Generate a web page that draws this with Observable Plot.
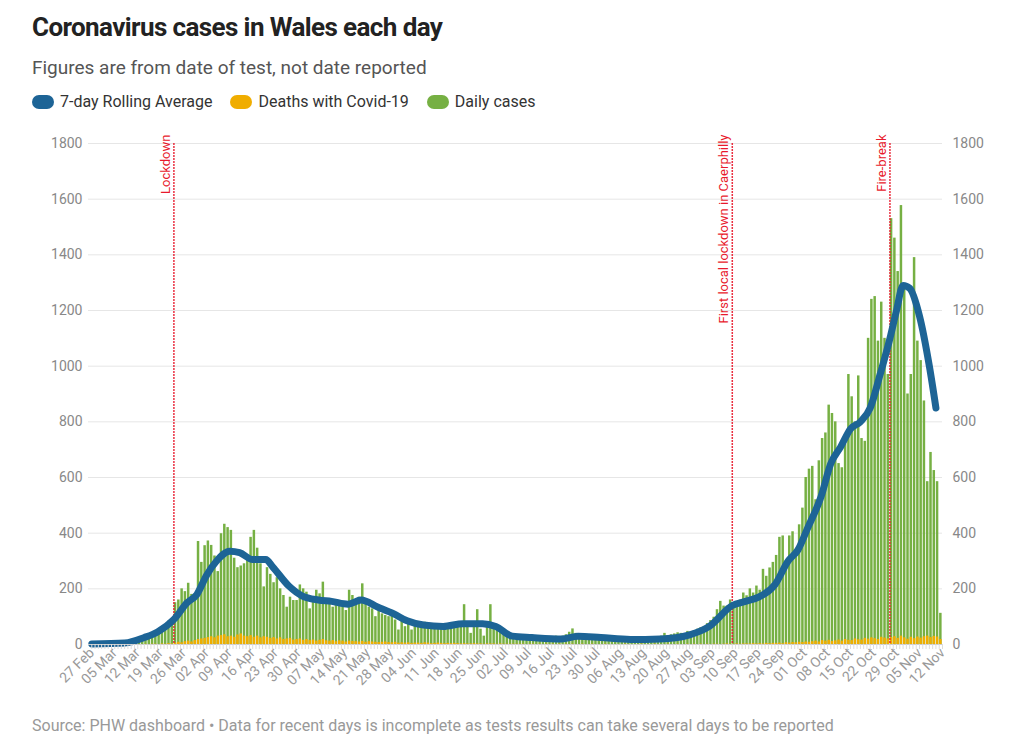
<!DOCTYPE html>
<html><head><meta charset="utf-8">
<script src="https://cdn.jsdelivr.net/npm/d3@7"></script>
<script src="https://cdn.jsdelivr.net/npm/@observablehq/plot@0.6"></script>
<style>
body{margin:0;background:#fff;font-family:Roboto,sans-serif;}
#title{position:absolute;left:32px;top:12px;font-size:26px;font-weight:700;color:#222;letter-spacing:-0.6px;}
#sub{position:absolute;left:32px;top:56px;font-size:19px;color:#555;}
#legend{position:absolute;left:32px;top:92px;font-size:16px;color:#333;display:flex;gap:18px;}
#legend span.sw{display:inline-block;width:22px;height:14px;border-radius:7px;margin-right:6px;vertical-align:-2px;}
#chart{position:absolute;left:0;top:120px;}
#foot{position:absolute;left:32px;top:716px;font-size:16px;color:#999;}
</style></head><body>
<div id="title">Coronavirus cases in Wales each day</div>
<div id="sub">Figures are from date of test, not date reported</div>
<div id="legend"><div><span class="sw" style="background:#1d6496"></span>7-day Rolling Average</div><div><span class="sw" style="background:#f0ad00"></span>Deaths with Covid-19</div><div><span class="sw" style="background:#76b043"></span>Daily cases</div></div>
<div id="chart"></div>
<div id="foot">Source: PHW dashboard • Data for recent days is incomplete as tests results can take several days to be reported</div>
<script>
const startDate = "2020-02-27";
const cases = [
1,0,1,2,1,1,2,
3,5,4,8,10,12,15,
20,25,30,30,35,40,45,
59,70,84,84,
150,160,200,190,220,180,160,
370,295,355,372,356,318,262,
398,432,420,410,310,276,282,
290,320,385,410,346,290,207,
276,252,222,240,200,176,134,
170,158,158,214,200,188,128,
170,195,182,224,158,146,134,
140,158,134,122,195,176,158,
170,218,146,134,128,100,122,
110,104,100,110,88,52,88,
64,76,52,76,
65,70,80,72,68,60,75,70,66,72,62,70,75,68,
143,70,40,75,125,55,30,72,143,
60,55,50,40,45,38,35,30,
28,30,25,27,30,26,28,24,27,25,28,30,26,30,35,44,
56,40,35,32,35,30,33,28,30,32,27,30,26,25,
22,20,23,18,21,20,22,19,24,20,22,25,24,30,
40,32,35,38,42,40,35,47,45,50,55,60,65,
75,86,98,125,155,138,138,160,148,150,160,185,175,
200,185,210,195,270,245,275,295,
320,385,390,300,390,405,340,430,490,600,630,640,520,660,740,760,860,830,800,650,635,720,970,890,800,965,740,730,
1100,1240,1250,1090,1230,1100,970,1530,1460,1340,1577,1290,900,970,1390,1090,1020,875,585,690,625,585,112];
const deaths = [
0,0,0,0,0,0,0,
0,0,0,0,0,0,0,
0,0,1,0,1,1,0,
2,1,3,2,
5,8,6,10,12,9,14,
18,20,22,25,28,24,30,
32,35,28,30,26,34,38,
30,28,32,26,30,24,28,
26,22,25,20,24,18,20,
22,16,18,20,15,18,14,
16,12,15,18,13,12,14,
10,13,12,9,12,11,10,
9,11,8,10,9,8,7,
8,9,7,6,8,5,6,
5,6,4,5,
5,4,6,5,3,4,5,4,3,4,3,4,3,2,
3,2,2,3,2,2,1,2,2,
2,1,2,1,1,1,1,1,
1,1,0,1,1,0,1,0,1,0,1,0,1,0,1,0,
1,0,0,1,0,0,1,0,0,0,1,0,0,0,
0,0,1,0,0,0,0,1,0,0,0,1,0,0,
0,1,0,0,1,0,0,1,0,1,0,1,0,
1,0,1,1,0,1,2,1,1,2,1,2,2,
2,3,2,3,2,4,3,4,
4,5,3,6,5,7,6,8,7,9,8,10,12,9,14,12,15,11,13,16,12,18,15,14,20,17,16,22,
19,24,21,18,26,23,20,25,28,22,30,24,19,26,21,27,23,28,30,25,29,27,18];
// 7-day rolling average: day index since 27 Feb, value
const avgDay = [0,10,16,20,25,29,32,35,38,42,45,49,53,55,60,64,69,73,78,82,87,92,96,101,107,113,119,123,128,134,143,148,155,164,173,182,188,195,199,203,208,212,215,218,222,225,228,231,234,237,240,243,245,247,249,252,255,257];
const avgVal = [2,5,25,45,90,150,180,250,300,335,330,305,305,280,210,175,160,155,145,160,135,110,85,70,65,75,75,65,30,25,20,30,25,18,20,35,65,140,155,170,215,300,340,420,530,650,710,775,800,850,970,1100,1200,1290,1280,1180,1000,850];
const tickLabels = ["27 Feb","05 Mar","12 Mar","19 Mar","26 Mar","02 Apr","09 Apr","16 Apr","23 Apr","30 Apr","07 May","14 May","21 May","28 May","04 Jun","11 Jun","18 Jun","25 Jun","02 Jul","09 Jul","16 Jul","23 Jul","30 Jul","06 Aug","13 Aug","20 Aug","27 Aug","03 Sep","10 Sep","17 Sep","24 Sep","01 Oct","08 Oct","15 Oct","22 Oct","29 Oct","05 Nov","12 Nov"];
const eventLabels = ["Lockdown","First local lockdown in Caerphilly","Fire-break"];
const eventDates = ["2020-03-23","2020-09-09","2020-10-27"];

const t0 = new Date(startDate);
const data = cases.map((c,i)=>({date:d3.utcDay.offset(t0,i), cases:c, deaths:deaths[i]}));
const avg = avgDay.map((d,i)=>({date:d3.utcDay.offset(t0,d), v:avgVal[i]}));
const tickDates = tickLabels.map((_,i)=>d3.utcDay.offset(t0,7*i));
const allDays = d3.utcDay.range(t0, d3.utcDay.offset(t0, 260));
const events = eventLabels.map((l,i)=>({label:l, date:new Date(eventDates[i])}));
const fmt = d=>tickLabels[tickDates.findIndex(t=>+t===+d)];
const yt = d3.range(0,1801,200);

const plot = Plot.plot({
  width:1020, height:590,
  marginLeft:88, marginRight:78, marginTop:23, marginBottom:66,
  style:{fontFamily:"Roboto, sans-serif", fontSize:"14px", color:"#888"},
  x:{type:"utc", domain:[d3.utcDay.offset(t0,-0.5), d3.utcDay.offset(t0,259)]},
  y:{domain:[0,1800]},
  marks:[
    Plot.gridY(yt,{stroke:"#e6e6e6", strokeOpacity:1}),
    Plot.axisY(yt,{anchor:"left", tickSize:0, tickPadding:6, fill:"#888", tickFormat:d=>String(d)}),
    Plot.axisY(yt,{anchor:"right", tickSize:0, tickPadding:10, fill:"#888", tickFormat:d=>String(d)}),
    Plot.rectY(data,{x:"date", y:"cases", interval:"day", fill:"#76b043", insetLeft:0.4, insetRight:0.4}),
    Plot.rectY(data,{x:"date", y:"deaths", interval:"day", fill:"#f0ad00", insetLeft:0.4, insetRight:0.4}),
    Plot.ruleX(events,{x:d=>d.date, stroke:()=>"#e8192c", strokeWidth:1.5, strokeOpacity:0.9, strokeDasharray:"2,1"}),
    Plot.text(events,{x:"date", y:1800, text:"label", rotate:-90, textAnchor:"end", dx:-8, dy:-9, fill:"#e8192c", fontSize:13}),
    Plot.lineY(avg,{x:"date", y:"v", curve:"monotone-x", stroke:"#1d6496", strokeWidth:7, strokeLinecap:"round", strokeLinejoin:"round"}),
    Plot.ruleY([0],{stroke:"#ccc"}),
    Plot.axisX(allDays,{tickSize:5, tickFormat:()=>"", stroke:"#ddd"}),
    Plot.axisX(tickDates,{tickSize:0, tickRotate:-45, tickFormat:fmt, fill:"#999", fontSize:14, tickPadding:6})
  ]
});
document.getElementById("chart").append(plot);
</script></body></html>
